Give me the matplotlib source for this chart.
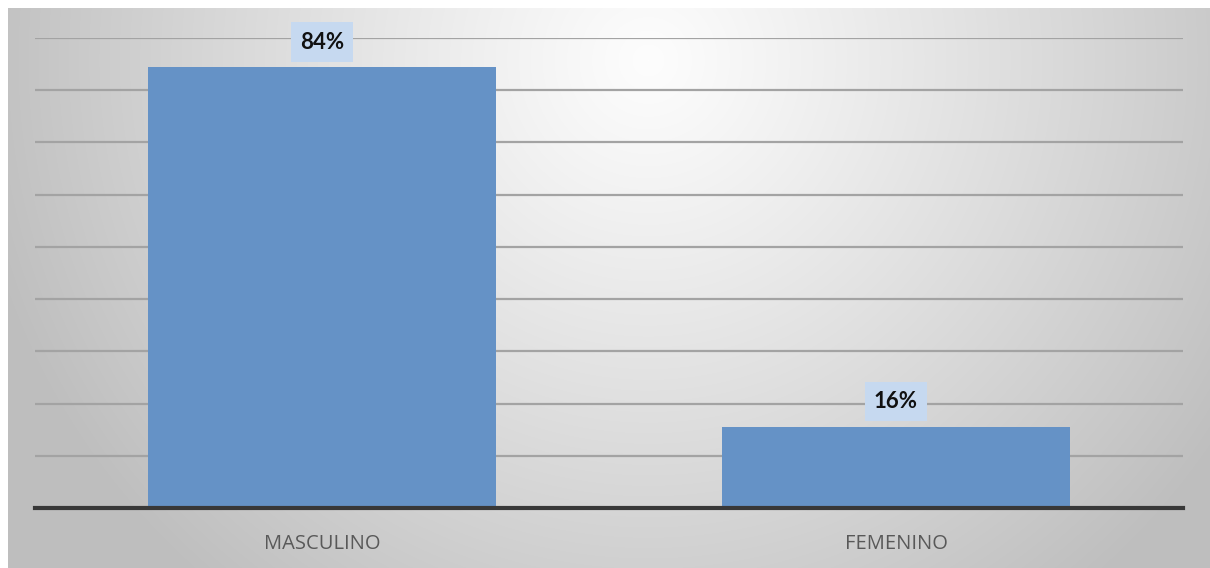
import numpy as np
import matplotlib.pyplot as plt

categorias = ["MASCULINO", "FEMENINO"]
valores = [0.844, 0.156]
etiquetas = ["84%", "16%"]

W, H = 1210, 568
fig = plt.figure(figsize=(W / 100, H / 100), dpi=100)
fig.patch.set_facecolor("white")

# fondo con degradado radial
bg = fig.add_axes([8 / W, 0, 1 - 8 / W, (H - 8) / H])
yy, xx = np.mgrid[0:560, 0:1202]
d = np.hypot(xx - 640, (yy - 52) * 1.0)
c = 253 - 58 * np.clip(d / 640, 0, 1.2) ** 1.1
c = np.clip(c, 190, 255) / 255
bg.imshow(np.dstack([c, c, c]), aspect="auto", extent=[0, 1, 0, 1], origin="upper")
bg.set_axis_off()

ax = fig.add_axes([35 / W, (H - 508) / H, 1148 / W, 470 / H])
ax.patch.set_alpha(0)
x = np.arange(len(categorias))
bars = ax.bar(x, valores, width=0.605, color="#6592c6", zorder=3)
ax.set_xlim(-0.5, 1.5)
ax.set_ylim(0, 0.9)
ax.set_yticks(np.arange(0.1, 0.91, 0.1))
ax.grid(axis="y", color="#a3a3a3", lw=1.6, zorder=1)
ax.tick_params(left=False, labelleft=False, bottom=False)
for s in ["top", "right", "left"]:
    ax.spines[s].set_visible(False)
ax.spines["bottom"].set_color("#383838")
ax.spines["bottom"].set_linewidth(3)
ax.spines["bottom"].set_zorder(4)
ax.set_xticks(x)
ax.set_xticklabels(categorias, fontsize=14.5, color="#595959", family="Open Sans")
ax.tick_params(axis="x", pad=15)

for b, t in zip(bars, etiquetas):
    ax.annotate(t, (b.get_x() + b.get_width() / 2, b.get_height()),
                xytext=(0, 18), textcoords="offset points", ha="center", va="center",
                fontsize=16, fontweight="bold", family="Lato", color="#111111",
                bbox=dict(boxstyle="square,pad=0.42", fc="#c6d9f0", ec="none"), zorder=5)

fig.savefig("out.png", dpi=100)
